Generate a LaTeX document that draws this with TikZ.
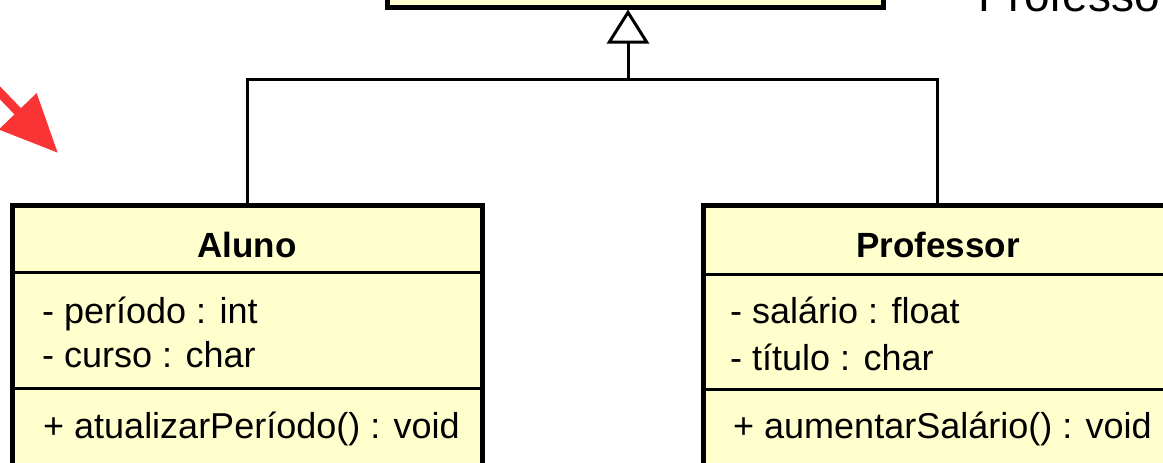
\documentclass[tikz,border=0pt]{standalone}
\usepackage{fontspec}
\setmainfont{Liberation Sans}
\usetikzlibrary{arrows.meta}
\definecolor{umlfill}{RGB}{255,255,206}
\definecolor{redarrow}{RGB}{250,52,52}
\begin{document}
\begin{tikzpicture}[x=1pt,y=-1pt,
  classbox/.style={draw=black, line width=5pt, fill=umlfill, inner sep=0pt, rectangle},
  divider/.style={line width=3pt, black},
  conn/.style={line width=3pt, black},
  title/.style={font=\fontsize{35}{40}\selectfont\bfseries, anchor=base, inner sep=0pt},
  member/.style={font=\fontsize{36}{40}\selectfont, anchor=base west, inner sep=0pt},
]
\useasboundingbox (0,0) rectangle (1163,463);
\clip (0,0) rectangle (1163,463);
\fill[white] (0,0) rectangle (1163,463);

% superclass (mostly outside the view)
\node[classbox, minimum width=496pt, minimum height=200pt] (super) at (635,-93) {};
\node[font=\fontsize{46}{50}\selectfont, anchor=base west, inner sep=0pt] (ptext) at (978,12) {Professo};

% subclasses
\node[classbox, minimum width=470pt, minimum height=300pt] (aluno) at (247,355) {};
\node[classbox, minimum width=468pt, minimum height=300pt] (prof) at (937,355) {};

\draw[divider] (aluno.west |- 0,272) -- (aluno.east |- 0,272);
\draw[divider] (aluno.west |- 0,388) -- (aluno.east |- 0,388);
\draw[divider] (prof.west |- 0,274) -- (prof.east |- 0,274);
\draw[divider] (prof.west |- 0,389) -- (prof.east |- 0,389);

\node[title] (aname) at (247,257) {Aluno};
\node[member] (a1) at (42,323) {- período : int};
\node[member] (a2) at (42,367) {- curso : char};
\node[member] (a3) at (43,438) {+ atualizarPeríodo() : void};

\node[title] (pname) at (938,257) {Professor};
\node[member] (p1) at (730,323) {- salário : float};
\node[member] (p2) at (730,370) {- título : char};
\node[member] (p3) at (733,438) {+ aumentarSalário() : void};

% generalization connectors
\coordinate (j) at (628,79);
\draw[conn] (aluno.north) |- (j) -| (prof.north);
\draw[conn, -{Triangle[open, length=34pt, width=42pt]}] (j) -- (j |- super.south);

% red pointer arrow
\coordinate (rs) at (-25,67);
\coordinate (rt) at (58,153);
\draw[redarrow, line width=9pt, -{Triangle[length=58pt, width=50pt]}] (rs) -- (rt);
\end{tikzpicture}
\end{document}
